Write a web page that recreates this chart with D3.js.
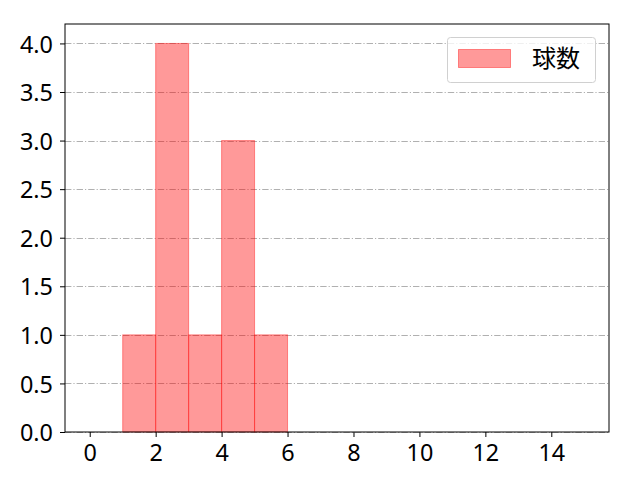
<!DOCTYPE html>
<html><head><meta charset="utf-8">
<script src="https://cdn.jsdelivr.net/npm/d3@7"></script>
<style>body{margin:0;background:#fff}</style>
</head><body>
<svg id="c" width="640" height="480"></svg>
<script>
const binStarts = [1, 2, 3, 4, 5];
const binEnds = [2, 3, 4, 5, 6];
const counts = [1, 4, 1, 3, 1];
const xTicks = [0, 2, 4, 6, 8, 10, 12, 14];
const yTicks = [0, 0.5, 1.0, 1.5, 2.0, 2.5, 3.0, 3.5, 4.0];
const seriesName = "球数";

const L = 65, R = 609, T = 24, B = 432;
const tickFont = "'Noto Sans', sans-serif";
const cjkFont = "'Noto Sans CJK JP', sans-serif";
const svg = d3.select("#c");
const x = d3.scaleLinear().domain([-0.75, 15.75]).range([L, R]);
const y = d3.scaleLinear().domain([0, 4.2]).range([B, T]);

// grid
svg.append("g").selectAll("line").data(yTicks).join("line")
  .attr("x1", L).attr("x2", R)
  .attr("y1", d => Math.round(y(d)) + 0.5).attr("y2", d => Math.round(y(d)) + 0.5)
  .attr("stroke", "#b0b0b0").attr("stroke-width", 1)
  .attr("stroke-dasharray", "6.4,2,1.2,2");

// bars
svg.append("g").selectAll("rect").data(counts).join("rect")
  .attr("x", (d, i) => x(binStarts[i]))
  .attr("width", (d, i) => x(binEnds[i]) - x(binStarts[i]))
  .attr("y", d => y(d))
  .attr("height", d => B - y(d))
  .attr("fill", "rgba(255,0,0,0.4)")
  .attr("stroke", "rgba(255,0,0,0.4)")
  .attr("stroke-width", 1);

// axes
const xa = svg.append("g").attr("transform", `translate(0,${B})`)
  .call(d3.axisBottom(x).tickValues(xTicks).tickSize(5).tickPadding(5).tickFormat(d3.format("d")));
const ya = svg.append("g").attr("transform", `translate(${L},0)`)
  .call(d3.axisLeft(y).tickValues(yTicks).tickSize(5).tickPadding(7).tickFormat(d3.format(".1f")));
[xa, ya].forEach(a => {
  a.select(".domain").remove();
  a.selectAll("text").attr("font-family", tickFont).attr("font-size", 23.4).attr("fill", "#000");
  a.selectAll("line").attr("stroke", "#000").attr("stroke-width", 1);
});
xa.selectAll("text").attr("y", 29).attr("dy", 0);
ya.selectAll("text").attr("dy", "0.37em");

svg.append("rect").attr("x", L).attr("y", T).attr("width", R - L).attr("height", B - T)
  .attr("fill", "none").attr("stroke", "#000").attr("stroke-width", 1);

// legend
const lg = svg.append("g");
lg.append("rect").attr("x", 447.5).attr("y", 37.5).attr("width", 148).attr("height", 45).attr("rx", 3)
  .attr("fill", "rgba(255,255,255,0.8)").attr("stroke", "#d0d0d0");
lg.append("rect").attr("x", 458.5).attr("y", 49.5).attr("width", 52).attr("height", 18)
  .attr("fill", "rgba(255,0,0,0.4)").attr("stroke", "rgba(255,0,0,0.4)");
lg.append("text").attr("x", 532).attr("y", 67).text(seriesName)
  .attr("font-family", cjkFont).attr("font-size", 24).attr("fill", "#000");
</script>
</body></html>
